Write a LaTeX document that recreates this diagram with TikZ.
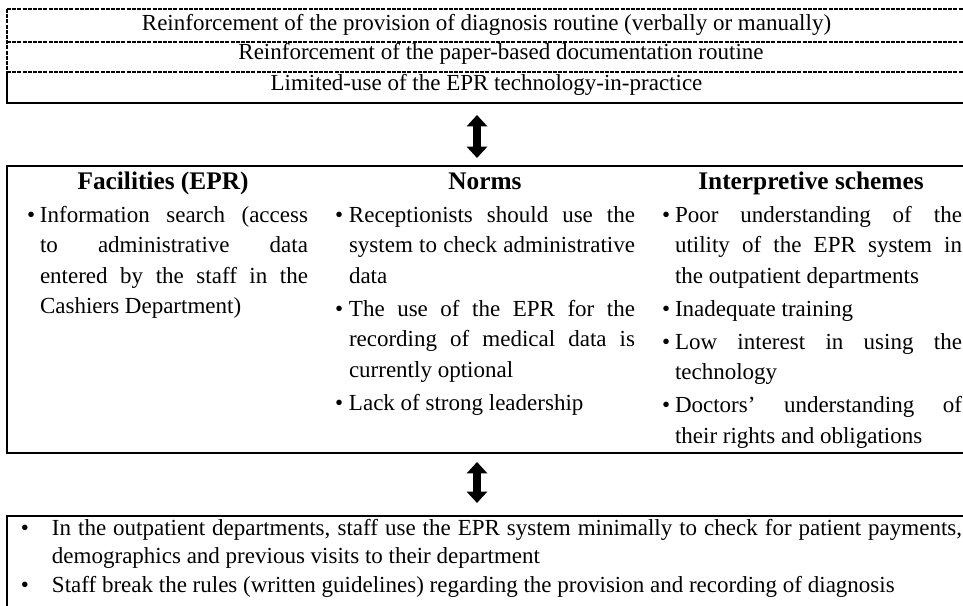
\documentclass[tikz,border=0pt]{standalone}
\usepackage{fontspec}
\setmainfont{Liberation Serif}
\usetikzlibrary{arrows.meta}
\newcommand{\bul}[2]{\hangindent=#1\hangafter=1\noindent\hbox to #1{\textbullet\hfil}#2\par}
\tikzset{
  txt/.style={font=\fontsize{17.25pt}{22.95pt}\selectfont, inner sep=0pt, outer sep=0pt},
  col/.style={txt, text width=#1, align=justify, anchor=base west,
    execute at begin node={\setlength{\parskip}{1.8pt}\hyphenpenalty=10000 \tolerance=9999 \emergencystretch=30pt}},
  head/.style={txt, font=\fontsize{19pt}{23pt}\selectfont\bfseries, anchor=base},
  boxnode/.style={draw=none, inner sep=0pt, outer sep=0pt, anchor=north west},
  frame/.style={line width=1pt},
  dashframe/.style={line width=0.8pt, dash pattern=on 3pt off 0.9pt},
  dblarrow/.style={line width=6pt, {Triangle[length=8.5pt,width=15pt]}-{Triangle[length=8.5pt,width=15pt]}}
}
\begin{document}
\begin{tikzpicture}[x=0.75pt, y=-0.75pt]
\useasboundingbox[fill=white] (0,0) rectangle (963,606);
% box placeholders
\node[boxnode, minimum width=726pt, minimum height=70.5pt] (topbox) at (7,9) {};
\node[boxnode, draw, frame, minimum width=726pt, minimum height=215.25pt] (midbox) at (7,166) {};
\node[boxnode, draw, frame, minimum width=726pt, minimum height=78pt] (botbox) at (7,516) {};
% top box lines
\draw[dashframe] (7,9) -- (975,9);
\draw[dashframe] (7,42) -- (975,42);
\draw[dashframe] (7,72) -- (975,72);
\draw[dashframe] (7,9) -- (7,72);
\draw[frame] (7,72) -- (7,103) -- (975,103);
% top texts
\node[txt, anchor=base] (r1) at (486.5,31) {Reinforcement of the provision of diagnosis routine (verbally or manually)};
\node[txt, anchor=base] (r2) at (501,60) {Reinforcement of the paper-based documentation routine};
\node[txt, anchor=base] (r3) at (486.5,91) {Limited-use of the EPR technology-in-practice};
% headers
\node[head] (h1) at (163,190) {Facilities (EPR)};
\node[head] (h2) at (485,190) {Norms};
\node[head] (h3) at (811,190) {Interpretive schemes};
% columns
\node[col=210.75pt] (c1) at (27,222) {%
\bul{9.75pt}{Information search (access\linebreak to administrative data\linebreak entered by the staff in the\linebreak Cashiers Department)}};
\node[col=225pt] (c2) at (335,222) {%
\bul{10.5pt}{Receptionists should use the\linebreak system to check administrative\linebreak data}%
\bul{10.5pt}{The use of the EPR for the\linebreak recording of medical data is\linebreak currently optional}%
\bul{10.5pt}{Lack of strong leadership}};
\node[col=225pt] (c3) at (662,222) {%
\bul{9.75pt}{Poor understanding of the\linebreak utility of the EPR system in\linebreak the outpatient departments}%
\bul{9.75pt}{Inadequate training}%
\bul{9.75pt}{Low interest in using the\linebreak technology}%
\bul{9.75pt}{Doctors’ understanding of\linebreak their rights and obligations}};
% bottom text
\node[col=705.75pt, font=\fontsize{17.25pt}{21.5pt}\selectfont, execute at begin node={\setlength{\parskip}{0pt}\hyphenpenalty=10000 \tolerance=9999}] (b1) at (21,535) {%
\bul{23.25pt}{In the outpatient departments, staff use the EPR system minimally to check for patient payments,\linebreak demographics and previous visits to their department}%
\bul{23.25pt}{Staff break the rules (written guidelines) regarding the provision and recording of diagnosis}};
% arrows
\coordinate (ax) at (477,0);
\draw[dblarrow, shorten <=9pt, shorten >=6pt] (topbox.south -| ax) -- (midbox.north -| ax);
\draw[dblarrow, shorten <=6.75pt, shorten >=9.75pt] (midbox.south -| ax) -- (botbox.north -| ax);
\end{tikzpicture}
\end{document}
